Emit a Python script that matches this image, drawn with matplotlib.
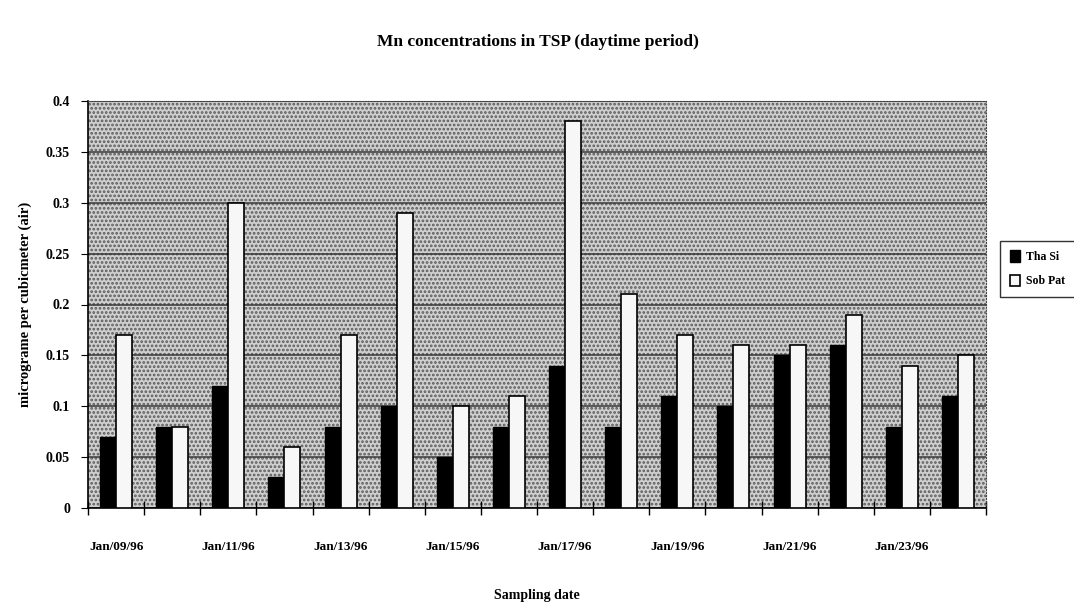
import matplotlib.pyplot as plt
import numpy as np
from matplotlib.patches import Rectangle

# sampling dates and Mn concentrations (microgram per cubic meter)
dates = ['Jan/09/96', 'Jan/10/96', 'Jan/11/96', 'Jan/12/96', 'Jan/13/96', 'Jan/14/96',
         'Jan/15/96', 'Jan/16/96', 'Jan/17/96', 'Jan/18/96', 'Jan/19/96', 'Jan/20/96',
         'Jan/21/96', 'Jan/22/96', 'Jan/23/96', 'Jan/24/96']
tha_si = [0.07, 0.08, 0.12, 0.03, 0.08, 0.10, 0.05, 0.08, 0.14, 0.08, 0.11, 0.10, 0.15, 0.16, 0.08, 0.11]
sob_pat = [0.17, 0.08, 0.30, 0.06, 0.17, 0.29, 0.10, 0.11, 0.38, 0.21, 0.17, 0.16, 0.16, 0.19, 0.14, 0.15]

plt.rcParams['font.family'] = ['Liberation Serif', 'DejaVu Serif']
plt.rcParams['font.weight'] = 'bold'
plt.rcParams['axes.labelweight'] = 'bold'
plt.rcParams['hatch.color'] = '#4a4a4a'
plt.rcParams['hatch.linewidth'] = 1.3

fig = plt.figure(figsize=(10.74, 6.04), dpi=100)
ax = fig.add_axes([88/1074, 1 - 508/604, 898/1074, 407/604])

# stippled plot area
ax.set_facecolor('#cfcfcf')
ax.add_patch(Rectangle((0, 0), 1, 1, transform=ax.transAxes, facecolor='none',
                       hatch='....', edgecolor='#5a5a5a', linewidth=0, zorder=0))

x = np.arange(len(dates))
w = 0.285
ax.bar(x - w/2, tha_si, w, color='black', edgecolor='black', linewidth=1, label='Tha Si', zorder=3)
ax.bar(x + w/2, sob_pat, w, color='#f7f7f7', edgecolor='black', linewidth=1.2, label='Sob Pat', zorder=3)

ax.set_xlim(-0.5, len(dates) - 0.5)
ax.set_ylim(0, 0.4)
yt = np.arange(0, 0.401, 0.05)
ax.set_yticks(yt)
ax.set_yticklabels(['0', '0.05', '0.1', '0.15', '0.2', '0.25', '0.3', '0.35', '0.4'])
ax.yaxis.grid(True, color='#3a3a3a', linewidth=1.1, zorder=1)
ax.set_axisbelow(True)

# category labels on every other date, ticks at category boundaries
ax.set_xticks(x[::2])
ax.set_xticklabels(dates[::2])
ax.tick_params(axis='x', length=0, pad=24, labelsize=9.5)
ax.set_xticks(np.arange(-0.5, len(dates)), minor=True)
ax.tick_params(axis='x', which='minor', direction='inout', length=10, width=1)
ax.tick_params(axis='y', direction='out', length=5, labelsize=10, pad=8)

for side in ('top', 'right'):
    ax.spines[side].set_linestyle(':')
    ax.spines[side].set_color('#444444')
ax.spines['left'].set_linewidth(1.2)
ax.spines['bottom'].set_linewidth(1.2)

ax.set_ylabel('micrograme per cubicmeter (air)', fontsize=10.5, labelpad=10)
ax.set_xlabel('Sampling date', fontsize=10, labelpad=26)
fig.text(538/1074, 1 - 42/604, 'Mn concentrations in TSP (daytime period)',
         ha='center', va='center', fontsize=12.5, fontweight='bold')

leg = ax.legend(loc='upper left', bbox_to_anchor=(1.012, 0.665), fontsize=8.5,
                frameon=True, fancybox=False, edgecolor='black', handlelength=0.9,
                handleheight=1.1, handletextpad=0.5, labelspacing=1.0,
                borderpad=0.8, borderaxespad=0.3)
leg.get_frame().set_linewidth(1)

fig.savefig('out.png', dpi=100)
